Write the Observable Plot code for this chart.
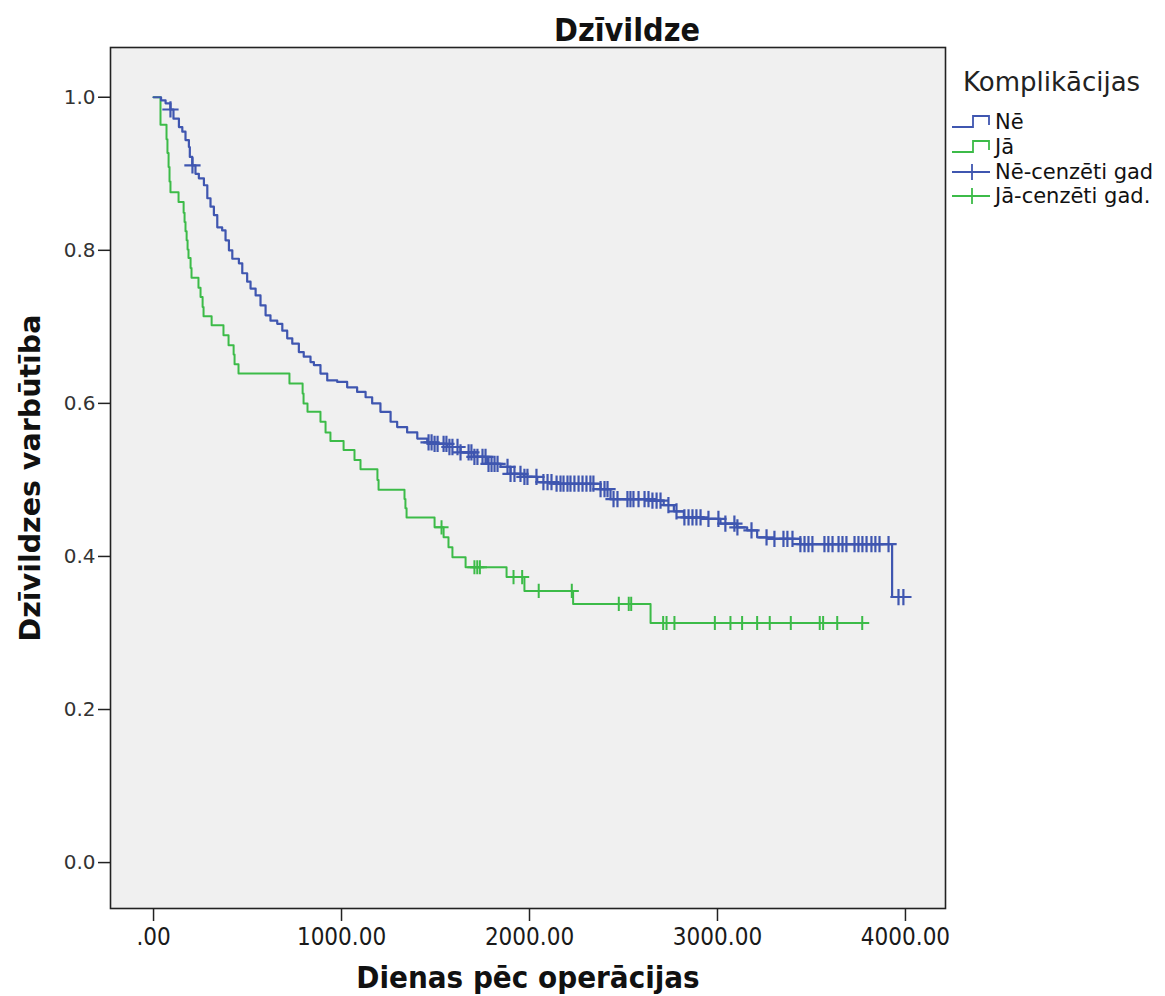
<!DOCTYPE html>
<html><head><meta charset="utf-8">
<script src="https://cdn.jsdelivr.net/npm/d3@7"></script>
<script src="https://cdn.jsdelivr.net/npm/@observablehq/plot@0.6"></script>
<style>
body{margin:0;background:#fff;}
#wrap{position:relative;width:1165px;height:996px;font-family:"DejaVu Sans",sans-serif;color:#111;}
.abs{position:absolute;white-space:nowrap;line-height:1;}
.cond{font-family:"DejaVu Sans Condensed","DejaVu Sans",sans-serif;font-stretch:condensed;}
#title{left:627px;top:30px;transform:translate(-50%,-50%);font-weight:bold;font-size:32px;}
#xtitle{left:528px;top:977px;transform:translate(-50%,-50%);font-weight:bold;font-size:31px;}
#ytitle{left:31px;top:478px;transform:translate(-50%,-50%) rotate(-90deg);font-weight:bold;font-size:28.5px;}
#legtitle{left:963px;top:69px;font-size:26px;color:#222;}
.leg{position:absolute;left:951px;height:24px;display:flex;align-items:center;font-size:21px;color:#111;}
.leg svg{margin-right:4px;}
</style>
</head><body>
<div id="wrap">
  <div id="chart"></div>
  <div class="abs cond" id="title">Dzīvildze</div>
  <div class="abs cond" id="xtitle">Dienas pēc operācijas</div>
  <div class="abs" id="ytitle">Dzīvildzes varbūtība</div>
  <div class="abs" id="legtitle">Komplikācijas</div>
  <div id="legend"></div>
</div>
<script>
// ---- data ----
const groups = ["Nē", "Jā"];
const legendLabels = ["Nē", "Jā", "Nē-cenzēti gad", "Jā-cenzēti gad."];
const xTicks = [0, 1000, 2000, 3000, 4000];
const yTicks = [0, 0.2, 0.4, 0.6, 0.8, 1.0];

// Jā (green) survival steps
const jaT = [0,37,69,74,80,85,90,133,160,165,170,176,181,186,197,202,239,250,261,266,309,372,399,426,431,452,723,793,798,819,888,915,941,1011,1069,1101,1191,1197,1335,1340,1346,1495,1543,1569,1590,1660,1878,1973,2232,2644,3798];
const jaS = [1,0.964,0.945,0.927,0.909,0.890,0.876,0.863,0.849,0.837,0.825,0.813,0.801,0.790,0.777,0.764,0.751,0.739,0.726,0.714,0.702,0.689,0.676,0.664,0.651,0.639,0.626,0.613,0.600,0.589,0.576,0.562,0.551,0.539,0.526,0.514,0.500,0.487,0.475,0.463,0.451,0.438,0.425,0.412,0.399,0.386,0.373,0.355,0.338,0.313,0.313];
const jaCens = [1532,1707,1722,1736,1915,1961,2049,2225,2475,2528,2541,2711,2729,2771,2986,3069,3131,3211,3278,3390,3544,3562,3637,3770];

// Nē (blue) survival steps
const neT = [0,40,64,90,106,135,153,170,188,193,206,223,241,268,286,303,321,339,365,383,401,419,454,472,498,516,543,569,596,622,658,685,711,738,773,799,835,853,888,924,977,1030,1083,1128,1163,1207,1261,1296,1349,1403,1456,1491,1562,1633,1704,1775,1846,1899,1970,2041,2129,2378,2431,2644,2714,2768,2821,2927,3016,3105,3158,3211,3264,3441,3929,4016];
const neS = [1,0.996,0.992,0.984,0.972,0.961,0.955,0.944,0.935,0.922,0.911,0.900,0.894,0.885,0.868,0.857,0.846,0.830,0.826,0.813,0.800,0.789,0.783,0.770,0.759,0.750,0.741,0.728,0.715,0.708,0.704,0.695,0.685,0.678,0.667,0.661,0.654,0.650,0.639,0.630,0.628,0.621,0.615,0.608,0.600,0.589,0.576,0.569,0.562,0.554,0.549,0.547,0.543,0.536,0.530,0.521,0.517,0.508,0.504,0.497,0.495,0.488,0.475,0.473,0.467,0.459,0.451,0.449,0.443,0.438,0.434,0.425,0.423,0.416,0.347,0.347];
const neCens = [90,207,1463,1479,1495,1511,1543,1558,1574,1590,1617,1633,1676,1691,1707,1723,1750,1766,1782,1798,1814,1830,1883,1899,1920,1952,1973,1989,2037,2074,2096,2117,2144,2165,2181,2202,2218,2239,2261,2282,2303,2324,2340,2378,2399,2415,2447,2468,2521,2537,2553,2580,2612,2633,2654,2676,2697,2739,2782,2824,2846,2867,2888,2910,2952,3005,3042,3090,3106,3181,3261,3303,3351,3372,3399,3441,3463,3484,3505,3569,3590,3612,3644,3665,3686,3729,3750,3771,3793,3819,3840,3862,3910,3963,3989];

const BLUE = "#3f56b0", GREEN = "#3cbb48";

function survAt(T, S, t) { let s = S[0]; for (let i = 0; i < T.length; i++) if (T[i] <= t) s = S[i]; return s; }
const jaLine = jaT.map((t, i) => ({t, s: jaS[i]}));
const neLine = neT.map((t, i) => ({t, s: neS[i]}));
const jaC = jaCens.map(t => ({t, s: survAt(jaT, jaS, t)}));
const neC = neCens.map(t => ({t, s: survAt(neT, neS, t)}));

const chart = Plot.plot({
  width: 1165, height: 996,
  marginLeft: 110, marginRight: 220, marginTop: 47, marginBottom: 88,
  style: {background: "transparent", overflow: "visible"},
  x: {domain: [-229, 4213], label: null, axis: null},
  y: {domain: [-0.06, 1.065], label: null, axis: null},
  marks: [
    Plot.frame({fill: "#f0f0f0"}),
    Plot.line(jaLine, {x: "t", y: "s", curve: "step-after", stroke: GREEN, strokeWidth: 2}),
    Plot.line(neLine, {x: "t", y: "s", curve: "step-after", stroke: BLUE, strokeWidth: 2.2}),
    Plot.dot(jaC, {x: "t", y: "s", symbol: "plus", r: 4.6, stroke: GREEN, strokeWidth: 2}),
    Plot.dot(neC, {x: "t", y: "s", symbol: "plus", r: 5.3, stroke: BLUE, strokeWidth: 2.2}),
    Plot.frame({stroke: "#222", strokeWidth: 1.6}),
    Plot.axisX({ticks: xTicks, tickFormat: d => d === 0 ? ".00" : d.toFixed(2), tickSize: 13, tickPadding: 6, fontSize: 24, fontFamily: "DejaVu Sans Condensed, DejaVu Sans", stroke: "#222", strokeWidth: 1.5, color: "#1a1a1a", label: null}),
    Plot.axisY({ticks: yTicks, tickFormat: d => d.toFixed(1), tickSize: 12, tickPadding: 3, fontSize: 20, fontFamily: "DejaVu Sans", stroke: "#222", strokeWidth: 1.5, color: "#333", label: null})
  ]
});
document.getElementById("chart").appendChild(chart);

// legend
const legend = document.getElementById("legend");
const rowsY = [110, 135, 160, 184];
const swatches = [
  `<svg width="40" height="16"><path d="M1,13H22V2H38V11" fill="none" stroke="${BLUE}" stroke-width="1.8"/></svg>`,
  `<svg width="40" height="16"><path d="M1,13H22V2H38V11" fill="none" stroke="${GREEN}" stroke-width="1.8"/></svg>`,
  `<svg width="40" height="18"><path d="M1,9H39M21,1V17" fill="none" stroke="${BLUE}" stroke-width="1.8"/></svg>`,
  `<svg width="40" height="18"><path d="M1,9H39M21,1V17" fill="none" stroke="${GREEN}" stroke-width="1.8"/></svg>`
];
legendLabels.forEach((lab, i) => {
  const d = document.createElement("div");
  d.className = "leg";
  d.style.top = rowsY[i] + "px";
  d.innerHTML = swatches[i] + `<span>${lab}</span>`;
  legend.appendChild(d);
});
</script>
</body></html>
